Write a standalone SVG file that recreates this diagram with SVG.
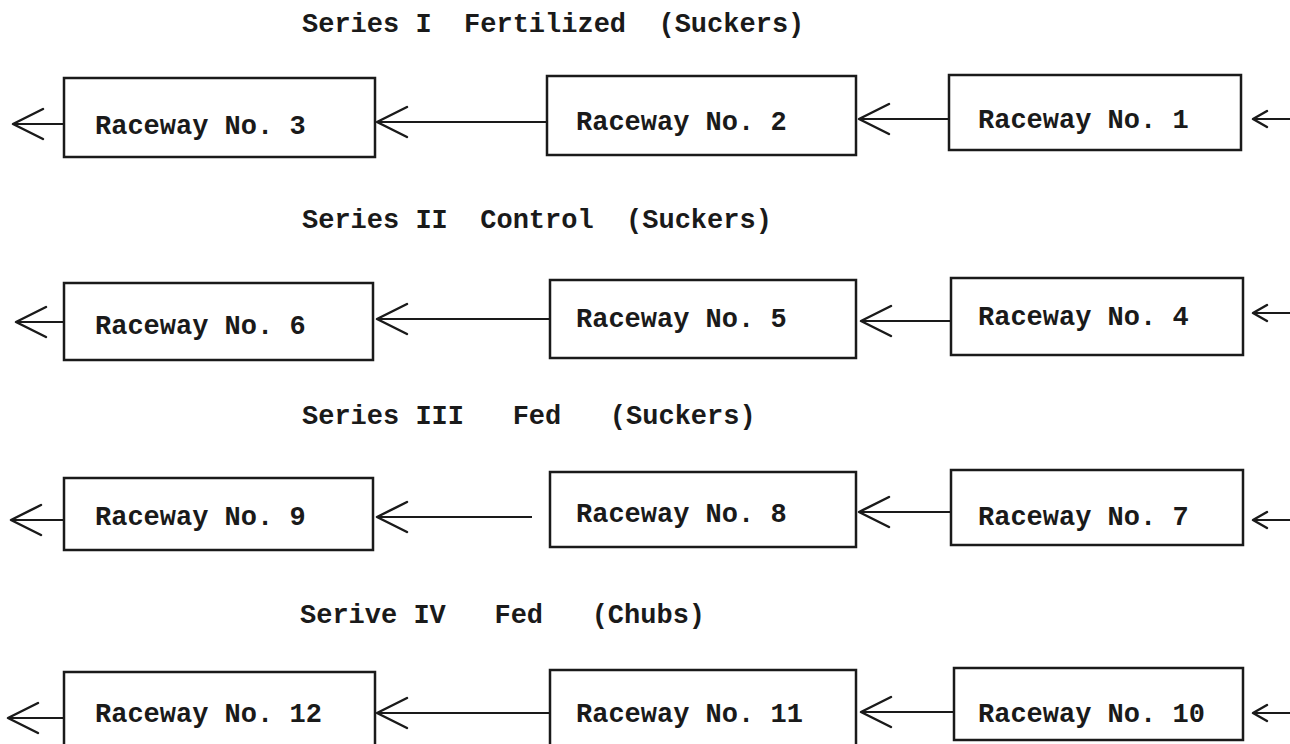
<svg xmlns="http://www.w3.org/2000/svg" width="1290" height="744" viewBox="0 0 1290 744">
<style>
  .bg { fill: #ffffff; }
  .box { fill: #ffffff; stroke: #1a1a1a; stroke-width: 2.5; }
  .lbl { font-family: "Liberation Mono", "Courier New", monospace; font-size: 27px; font-weight: bold; fill: #1a1a1a; }
  .ttl { font-family: "Liberation Mono", "Courier New", monospace; font-size: 27px; font-weight: bold; fill: #1a1a1a; white-space: pre; }
  .con { fill: none; stroke: #1a1a1a; stroke-width: 2; }
  .big { marker-end: url(#chev); }
  .sml { marker-end: url(#chevs); }
</style>
<defs>
  <marker id="chev" viewBox="-34 -17 36 34" refX="0" refY="0" markerWidth="36" markerHeight="34" markerUnits="userSpaceOnUse" orient="auto">
    <path d="M-30,-15 L0,0 L-30,15" fill="none" stroke="#1a1a1a" stroke-width="2.5" stroke-linecap="round" stroke-linejoin="round"/>
  </marker>
  <marker id="chevs" viewBox="-18 -10 20 20" refX="0" refY="0" markerWidth="20" markerHeight="20" markerUnits="userSpaceOnUse" orient="auto">
    <path d="M-14,-8 L0,0 L-14,8" fill="none" stroke="#1a1a1a" stroke-width="2.5" stroke-linecap="round" stroke-linejoin="round"/>
  </marker>
</defs>
<rect class="bg" x="0" y="0" width="1290" height="744"/>

<g id="titles">
  <text class="ttl" x="302" y="32" xml:space="preserve">Series I  Fertilized  (Suckers)</text>
  <text class="ttl" x="302" y="228" xml:space="preserve">Series II  Control  (Suckers)</text>
  <text class="ttl" x="302" y="424" xml:space="preserve">Series III   Fed   (Suckers)</text>
  <text class="ttl" x="300" y="623" xml:space="preserve">Serive IV   Fed   (Chubs)</text>
</g>

<g id="connectors">
  <line class="con sml" x1="1290" y1="119" x2="1253" y2="119"/>
  <line class="con big" x1="949" y1="119" x2="859" y2="119"/>
  <line class="con big" x1="547" y1="122" x2="377" y2="122"/>
  <line class="con big" x1="64" y1="124" x2="13" y2="124"/>

  <line class="con sml" x1="1290" y1="313" x2="1253" y2="313"/>
  <line class="con big" x1="951" y1="321" x2="861" y2="321"/>
  <line class="con big" x1="550" y1="319" x2="377" y2="319"/>
  <line class="con big" x1="64" y1="322" x2="16" y2="322"/>

  <line class="con sml" x1="1290" y1="520" x2="1253" y2="520"/>
  <line class="con big" x1="951" y1="512" x2="859" y2="512"/>
  <line class="con big" x1="532" y1="517" x2="377" y2="517"/>
  <line class="con big" x1="64" y1="520" x2="11" y2="520"/>

  <line class="con sml" x1="1290" y1="713" x2="1253" y2="713"/>
  <line class="con big" x1="954" y1="712" x2="861" y2="712"/>
  <line class="con big" x1="550" y1="713" x2="377" y2="713"/>
  <line class="con big" x1="64" y1="718" x2="8" y2="718"/>
</g>

<g id="raceway3"><rect class="box" x="64" y="78" width="311" height="79"/><text class="lbl" x="95" y="134">Raceway No. 3</text></g>
<g id="raceway2"><rect class="box" x="547" y="76" width="309" height="79"/><text class="lbl" x="576" y="130">Raceway No. 2</text></g>
<g id="raceway1"><rect class="box" x="949" y="75" width="292" height="75"/><text class="lbl" x="978" y="128">Raceway No. 1</text></g>

<g id="raceway6"><rect class="box" x="64" y="283" width="309" height="77"/><text class="lbl" x="95" y="334">Raceway No. 6</text></g>
<g id="raceway5"><rect class="box" x="550" y="280" width="306" height="78"/><text class="lbl" x="576" y="327">Raceway No. 5</text></g>
<g id="raceway4"><rect class="box" x="951" y="278" width="292" height="77"/><text class="lbl" x="978" y="325">Raceway No. 4</text></g>

<g id="raceway9"><rect class="box" x="64" y="478" width="309" height="72"/><text class="lbl" x="95" y="525">Raceway No. 9</text></g>
<g id="raceway8"><rect class="box" x="550" y="472" width="306" height="75"/><text class="lbl" x="576" y="522">Raceway No. 8</text></g>
<g id="raceway7"><rect class="box" x="951" y="470" width="292" height="75"/><text class="lbl" x="978" y="525">Raceway No. 7</text></g>

<g id="raceway12"><rect class="box" x="64" y="672" width="311" height="90"/><text class="lbl" x="95" y="722">Raceway No. 12</text></g>
<g id="raceway11"><rect class="box" x="550" y="670" width="306" height="90"/><text class="lbl" x="576" y="722">Raceway No. 11</text></g>
<g id="raceway10"><rect class="box" x="954" y="668" width="289" height="72"/><text class="lbl" x="978" y="722">Raceway No. 10</text></g>
</svg>
